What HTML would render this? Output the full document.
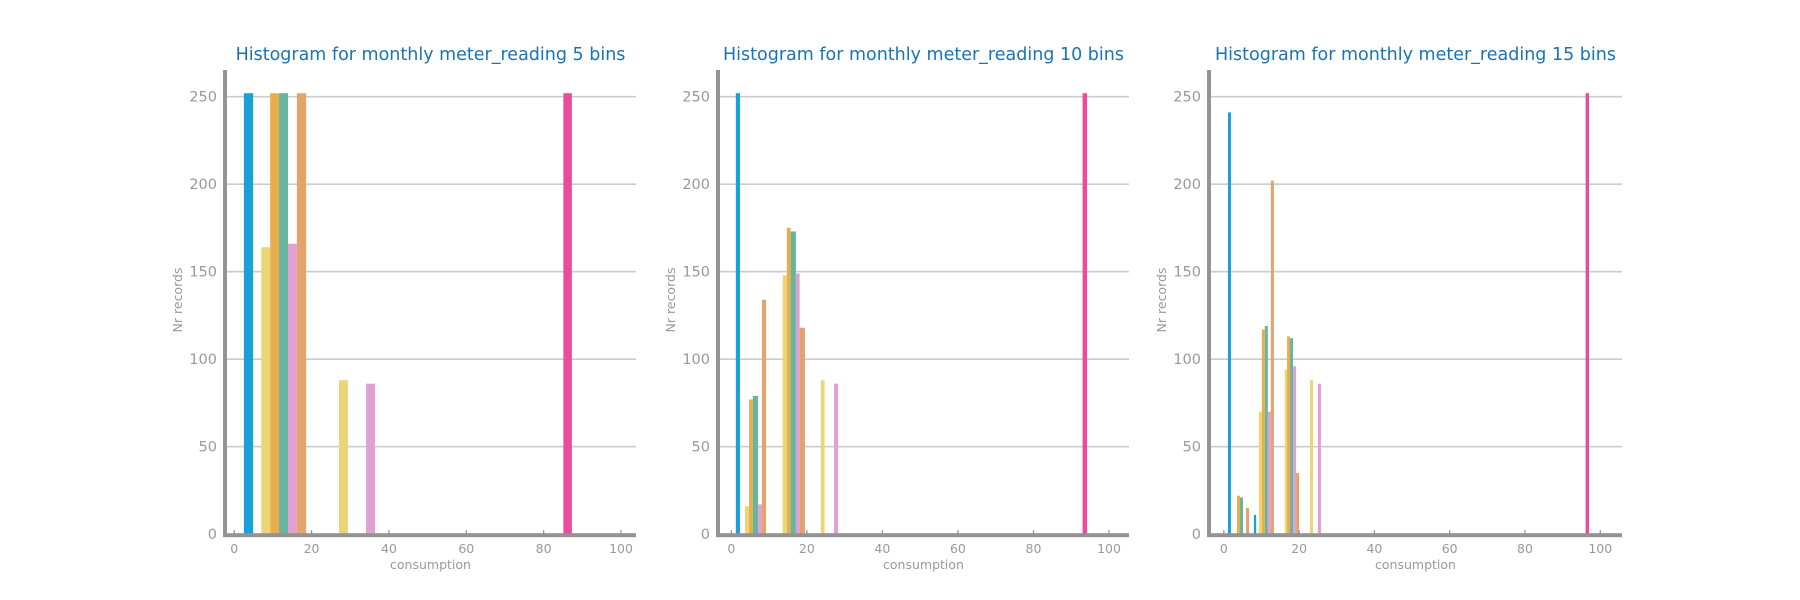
<!DOCTYPE html>
<html><head><meta charset="utf-8">
<style>
html,body{margin:0;padding:0;background:#fff;}
svg{display:block;font-family:"DejaVu Sans","Liberation Sans",sans-serif;}
</style></head>
<body>
<svg id="chart" width="1800" height="600" viewBox="0 0 1800 600" xmlns="http://www.w3.org/2000/svg"></svg>
<script>
// Shared data
const yTicks = [0, 50, 100, 150, 200, 250];
const xTicks = [0, 20, 40, 60, 80, 100];
const seriesColors = ["#1ba1d9", "#ebd574", "#e8ae4c", "#66b59c", "#e0a0d4", "#e3a36b", "#e94c9b"];
const titles = ["Histogram for monthly meter_reading 5 bins", "Histogram for monthly meter_reading 10 bins", "Histogram for monthly meter_reading 15 bins"];

// Chart 1 (5 bins)
const c1Start = [2.5, 7.0, 9.3, 11.6, 13.9, 16.2, 27.1, 34.1, 85.1];
const c1End   = [4.9, 9.3, 11.6, 13.9, 16.2, 18.6, 29.4, 36.4, 87.3];
const c1Value = [252, 164, 252, 252, 166, 252, 88, 86, 252];
const c1Series = [0, 1, 2, 3, 4, 5, 1, 4, 6];

// Chart 2 (10 bins)
const c2Start = [1.2, 3.6, 4.7, 5.7, 7.1, 8.1, 13.6, 14.7, 15.7, 17.1, 18.1, 23.7, 27.2, 93.0];
const c2End   = [2.3, 4.7, 5.7, 7.1, 8.1, 9.2, 14.7, 15.7, 17.1, 18.1, 19.5, 24.7, 28.3, 94.2];
const c2Value = [252, 16, 77, 79, 17, 134, 148, 175, 173, 149, 118, 88, 86, 252];
const c2Series = [0, 1, 2, 3, 4, 5, 1, 2, 3, 4, 5, 1, 4, 6];

// Chart 3 (15 bins)
const c3Start = [1.1, 3.5, 4.3, 5.9, 8.0, 9.3, 10.1, 10.9, 11.7, 12.5, 16.2, 16.8, 17.6, 18.4, 19.2, 22.9, 25.0, 96.1];
const c3End   = [1.9, 4.3, 5.1, 6.7, 8.6, 10.1, 10.9, 11.7, 12.5, 13.3, 16.8, 17.6, 18.4, 19.2, 20.0, 23.7, 25.8, 97.0];
const c3Value = [241, 22, 21, 15, 11, 70, 117, 119, 70, 202, 94, 113, 112, 96, 35, 88, 86, 252];
const c3Series = [0, 2, 3, 5, 0, 1, 2, 3, 4, 5, 1, 2, 3, 4, 5, 1, 4, 6];

const NS = "http://www.w3.org/2000/svg";
const svg = document.getElementById("chart");
function mk(tag, attrs, parent) {
  const e = document.createElementNS(NS, tag);
  for (const k in attrs) e.setAttribute(k, attrs[k]);
  parent.appendChild(e);
  return e;
}

const panels = [
  {ax0: 225, ax1: 636, x0: 234.2, x100: 621, starts: c1Start, ends: c1End, vals: c1Value, ser: c1Series},
  {ax0: 718, ax1: 1129, x0: 731.3, x100: 1109, starts: c2Start, ends: c2End, vals: c2Value, ser: c2Series},
  {ax0: 1209, ax1: 1622, x0: 1223.8, x100: 1600.3, starts: c3Start, ends: c3End, vals: c3Value, ser: c3Series}
];
const yZero = 534.2, yPerUnit = 1.75, yTop = 70;
function yScale(v) { return yZero - v * yPerUnit; }

panels.forEach((p, i) => {
  const xScale = v => p.x0 + (p.x100 - p.x0) * v / 100;
  const g = mk("g", {}, svg);
  
  

  yTicks.forEach(t => {
    if (t === 0) return;
    const l = mk("line", {x1: p.ax0, x2: p.ax1, y1: yScale(t), y2: yScale(t), stroke: "#cccccc", "stroke-width": 1.6}, g);
    
    
  });

  p.vals.forEach((v, j) => {
    const x1 = xScale(p.starts[j]), x2 = xScale(p.ends[j]);
    const r = mk("rect", {x: x1, y: yScale(v), width: Math.max(1, x2 - x1), height: yZero - yScale(v), fill: seriesColors[p.ser[j]]}, g);
    
    
  });

  const ls = mk("rect", {x: p.ax0 - 2, y: yTop, width: 4, height: yZero - yTop + 2, fill: "#939393"}, g);
  
  
  const bs = mk("rect", {x: p.ax0 - 2, y: yZero - 1, width: p.ax1 - p.ax0 + 2, height: 4, fill: "#939393"}, g);
  
  

  yTicks.forEach(t => {
    const tx = mk("text", {x: p.ax0 - 8, y: yScale(t) + 5, "text-anchor": "end", fill: "#999999", "font-size": 14.5}, g);
    tx.textContent = t;
    
    
  });
  xTicks.forEach(t => {
    const tk = mk("line", {x1: xScale(t), x2: xScale(t), y1: yZero - 4, y2: yZero + 3, stroke: "#939393", "stroke-width": 1.3}, g);
    
    
    const tx = mk("text", {x: xScale(t), y: 553, "text-anchor": "middle", fill: "#999999", "font-size": 12.5}, g);
    tx.textContent = t;
    
    
  });

  const xt = mk("text", {x: (p.ax0 + p.ax1) / 2, y: 569, "text-anchor": "middle", fill: "#999999", "font-size": 12.5}, g);
  xt.textContent = "consumption";
  
  

  const cy = 300;
  const yt = mk("text", {x: p.ax0 - 43, y: cy, "text-anchor": "middle", fill: "#999999", "font-size": 12.5, transform: "rotate(-90 " + (p.ax0 - 43) + " " + cy + ")"}, g);
  yt.textContent = "Nr records";
  
  

  const tt = mk("text", {x: (p.ax0 + p.ax1) / 2, y: 60, "text-anchor": "middle", fill: "#1a72b8", "font-size": 17.5}, g);
  tt.textContent = titles[i];
  
  
});
</script>
</body></html>
